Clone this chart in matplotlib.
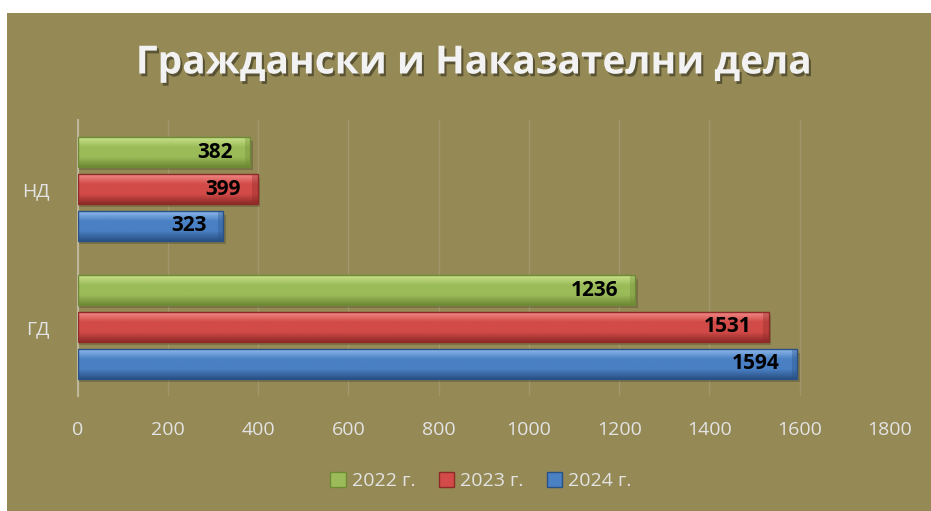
import numpy as np
import matplotlib.pyplot as plt
import matplotlib.patheffects as pe
from matplotlib.patches import Rectangle, Patch
from matplotlib.colors import LinearSegmentedColormap

# data
categories = ['ГД', 'НД']
years = ['2022 г.', '2023 г.', '2024 г.']
vals_2022 = [1236, 382]
vals_2023 = [1531, 399]
vals_2024 = [1594, 323]

plt.rcParams['font.family'] = ['Open Sans', 'DejaVu Sans']

bg = '#958A56'
txt = '#E3E3E3'
# (light top, base, dark bottom)
shades = [('#C9E38A', '#9BBB59', '#6F8A35'),
          ('#F08A87', '#D24B48', '#8E2A28'),
          ('#8DB8EC', '#4A80C4', '#2A5185')]

fig = plt.figure(figsize=(9.31, 5.11), dpi=100)
fig.patches.append(Rectangle((7/931, 0), 1, 1 - 13/511, transform=fig.transFigure,
                             facecolor=bg, edgecolor='none', zorder=-10))

ax = fig.add_axes([77.5/931, 1 - 396/511, (890 - 77.5)/931, (396 - 120)/511])
ax.set_facecolor('none')

y = np.arange(len(categories))
h = 0.215
step = 0.268
series = [vals_2022, vals_2023, vals_2024]
offsets = [step, 0, -step]

for vals, off, sh in zip(series, offsets, shades):
    cmap = LinearSegmentedColormap.from_list('g', [sh[0], sh[1], sh[1], sh[2]])
    grad = np.linspace(0, 1, 64).reshape(-1, 1)
    for yi, v in zip(y, vals):
        yc = yi + off
        # soft shadow
        ax.add_patch(Rectangle((0, yc - h/2 - 0.025), v + 6, h, facecolor='black',
                               alpha=0.18, edgecolor='none', zorder=2))
        ax.imshow(grad, cmap=cmap, extent=(0, v, yc - h/2, yc + h/2),
                  aspect='auto', origin='upper', zorder=3, interpolation='bicubic')
        ax.add_patch(Rectangle((0, yc - h/2), v, h, facecolor='none',
                               edgecolor=sh[2], lw=1.0, zorder=4))
        # bevel at the bar end
        ax.add_patch(Rectangle((v - 12, yc - h/2), 12, h, facecolor=sh[2],
                               alpha=0.35, edgecolor='none', zorder=4))
        ax.text(v - 38, yc, str(v), ha='right', va='center', fontsize=15,
                fontweight='bold', color='black', zorder=5)

ax.set_xlim(0, 1800)
ax.set_ylim(-0.5, 1.5)
ax.set_xticks(np.arange(0, 1801, 200))
ax.set_yticks(y)
ax.set_yticklabels(categories)
ax.grid(axis='x', color='#A0976A', lw=1, zorder=0)
ax.set_axisbelow(True)
for s in ['top', 'right', 'bottom']:
    ax.spines[s].set_visible(False)
ax.spines['left'].set_color('#BDB79A')
ax.spines['left'].set_linewidth(1.5)
ax.tick_params(axis='both', length=0, colors=txt, labelsize=14)
ax.tick_params(axis='x', pad=18)
ax.tick_params(axis='y', pad=20)

fig.text(473/931, 1 - 63/511, 'Граждански и Наказателни дела',
         ha='center', va='center', fontsize=28, fontweight='bold', color='#F2F2F2',
         path_effects=[pe.withSimplePatchShadow(offset=(1.5, -2), shadow_rgbFace='black', alpha=0.4)])

handles = [Patch(facecolor=sh[1], edgecolor=sh[2]) for sh in shades]
fig.legend(handles, years, loc='center', bbox_to_anchor=(481/931, 1 - 481/511), ncol=3,
           frameon=False, fontsize=14, labelcolor=txt, handlelength=0.8, handleheight=0.8,
           handletextpad=0.3, columnspacing=1.2)

plt.savefig('out.png', dpi=100)
